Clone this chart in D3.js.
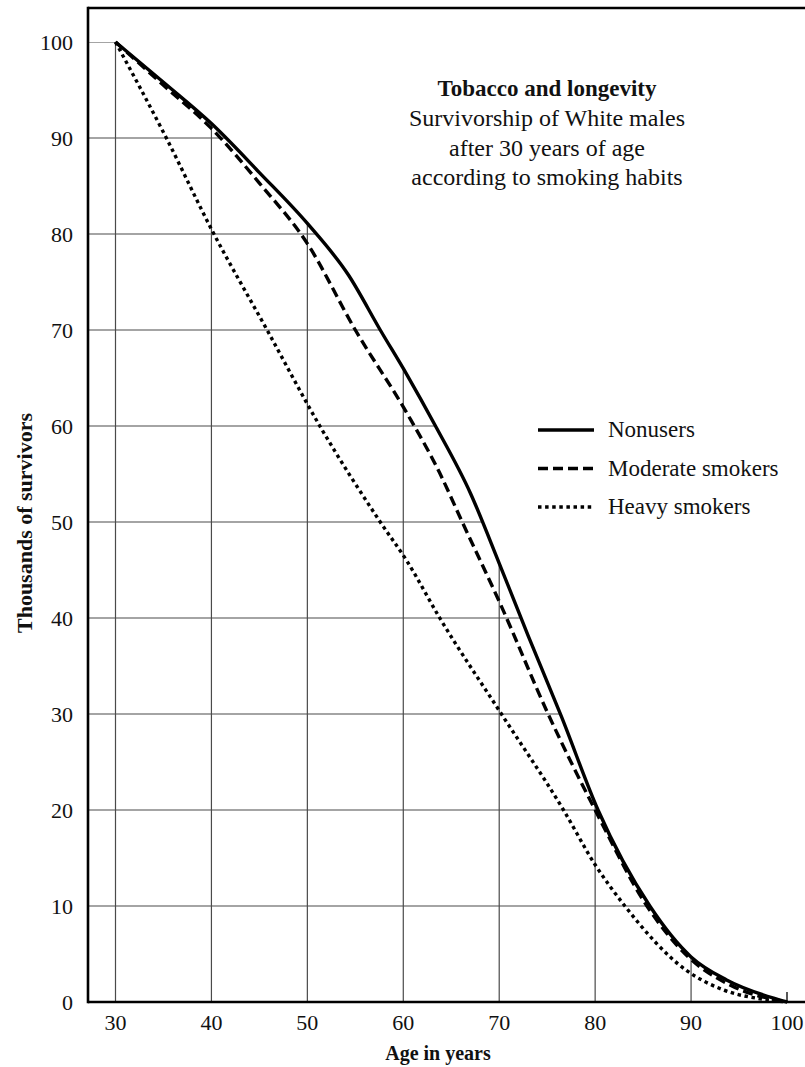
<!DOCTYPE html>
<html><head><meta charset="utf-8">
<script src="https://cdn.jsdelivr.net/npm/d3@7"></script>
<style>
body{margin:0;background:#fff}
svg{display:block}
text{font-family:"Liberation Serif","Times New Roman",serif;fill:#111}
</style>
</head><body>
<svg id="c" width="805" height="1067"></svg>
<script>
// ---- data ----
const nonusersAge = [30, 35, 40, 45, 50, 54.3, 57.6, 60.4, 63.3, 67, 70, 73, 76.5, 80.3, 85.7, 90, 93.7, 98.6, 100];
const nonusersVal = [100, 95.8, 91.5, 86.4, 81.1, 75.7, 70, 65.3, 60.1, 53, 45.7, 38.2, 29.7, 20, 10, 4.7, 2.3, 0.4, 0];
const moderateAge = [30, 35, 40, 45, 50, 55, 60.4, 63.8, 66.1, 70.1, 75.1, 80, 85.4, 89.7, 94, 100];
const moderateVal = [100, 95.5, 91, 85.3, 79, 70, 61.3, 55.1, 50.1, 41.5, 30, 20, 10, 4.7, 1.8, 0];
const heavyAge = [30, 35.3, 40, 45.8, 51.3, 57.6, 60.4, 63.8, 70.1, 76.7, 80, 83.1, 89.5, 93.4, 98.2, 100];
const heavyVal = [100, 90, 80.5, 70, 60, 50, 45.9, 40, 30.2, 20, 14.3, 10, 3.3, 1.25, 0.2, 0];
const seriesNames = ["Nonusers", "Moderate smokers", "Heavy smokers"];
const xTicks = [30, 40, 50, 60, 70, 80, 90, 100];
const yTicks = [0, 10, 20, 30, 40, 50, 60, 70, 80, 90, 100];
const titleText = "Tobacco and longevity";
const subtitleLines = ["Survivorship of White males", "after 30 years of age", "according to smoking habits"];
const xTitle = "Age in years";
const yTitle = "Thousands of survivors";

// ---- layout ----
const svg = d3.select("#c");
const W = 805, H = 1067;
const frameL = 88, frameT = 8, frameB = 1002;
const x = d3.scaleLinear().domain([30, 100]).range([115.5, 787]);
const y = d3.scaleLinear().domain([0, 100]).range([1002, 42]);

const mk = (a, v) => a.map((d, i) => ({age: d, val: v[i]}));
const series = [
  {name: seriesNames[0], data: mk(nonusersAge, nonusersVal), dash: null},
  {name: seriesNames[1], data: mk(moderateAge, moderateVal), dash: "10,5"},
  {name: seriesNames[2], data: mk(heavyAge, heavyVal), dash: "3.5,3.6"}
];
const curve = d3.curveMonotoneX;

// clip: region under nonusers curve plus strip left of age 30
const defs = svg.append("defs");
const cp = defs.append("clipPath").attr("id", "under");
cp.append("path").attr("d", d3.area().x(d => x(d.age)).y0(y(0)).y1(d => y(d.val)).curve(curve)(series[0].data));
cp.append("rect").attr("x", frameL).attr("y", y(100)).attr("width", x(30) - frameL).attr("height", y(0) - y(100));

const grid = svg.append("g").attr("clip-path", "url(#under)")
  .attr("stroke", "#4a4a4a").attr("stroke-width", 1.2);
grid.selectAll("line.v").data(xTicks.filter(t => t < 100)).join("line")
  .attr("x1", d => x(d)).attr("x2", d => x(d)).attr("y1", y(0)).attr("y2", y(100));
grid.selectAll("line.h").data(yTicks.filter(t => t > 0)).join("line")
  .attr("x1", frameL).attr("x2", x(100)).attr("y1", d => y(d)).attr("y2", d => y(d));
// end tick at 100
svg.append("line").attr("x1", x(100)).attr("x2", x(100)).attr("y1", y(0)).attr("y2", y(0) - 10)
  .attr("stroke", "#111").attr("stroke-width", 1.4);

// frame
const frame = svg.append("g").attr("stroke", "#000").attr("stroke-width", 2.6).attr("fill", "none");
frame.append("line").attr("x1", frameL).attr("x2", frameL).attr("y1", frameT - 1.3).attr("y2", frameB + 1.3);
frame.append("line").attr("x1", frameL).attr("x2", W).attr("y1", frameT).attr("y2", frameT);
frame.append("line").attr("x1", frameL).attr("x2", W).attr("y1", frameB).attr("y2", frameB);

// lines
const line = d3.line().x(d => x(d.age)).y(d => y(d.val)).curve(curve);
svg.append("g").selectAll("path").data(series).join("path")
  .attr("d", d => line(d.data))
  .attr("fill", "none").attr("stroke", "#000").attr("stroke-width", 3.4)
  .attr("stroke-dasharray", d => d.dash);

// axis labels
svg.append("g").selectAll("text").data(yTicks).join("text")
  .attr("x", 73).attr("y", d => y(d)).attr("dy", "0.35em")
  .attr("text-anchor", "end").attr("font-size", 22).text(d => d);
svg.append("g").selectAll("text").data(xTicks).join("text")
  .attr("x", d => x(d)).attr("y", 1030)
  .attr("text-anchor", "middle").attr("font-size", 22).text(d => d);

svg.append("text").attr("x", 438).attr("y", 1060).attr("text-anchor", "middle")
  .attr("font-size", 20).attr("font-weight", "bold").text(xTitle);
svg.append("text").attr("transform", "translate(32,523) rotate(-90)").attr("text-anchor", "middle")
  .attr("font-size", 22).attr("font-weight", "bold").text(yTitle);

// title block
svg.append("text").attr("x", 547).attr("y", 96).attr("text-anchor", "middle")
  .attr("font-size", 23).attr("font-weight", "bold").text(titleText);
svg.append("g").selectAll("text").data(subtitleLines).join("text")
  .attr("x", 547).attr("y", (d, i) => 126 + i * 29.5).attr("text-anchor", "middle")
  .attr("font-size", 24).text(d => d);

// legend
const lg = svg.append("g").selectAll("g").data(series).join("g")
  .attr("transform", (d, i) => `translate(538,${430 + i * 38.5})`);
lg.append("line").attr("x1", 0).attr("x2", 56).attr("y1", 0).attr("y2", 0)
  .attr("stroke", "#000").attr("stroke-width", 3.4).attr("stroke-dasharray", d => d.dash);
lg.append("text").attr("x", 70).attr("y", 7).attr("font-size", 23).text(d => d.name);
</script>
</body></html>
